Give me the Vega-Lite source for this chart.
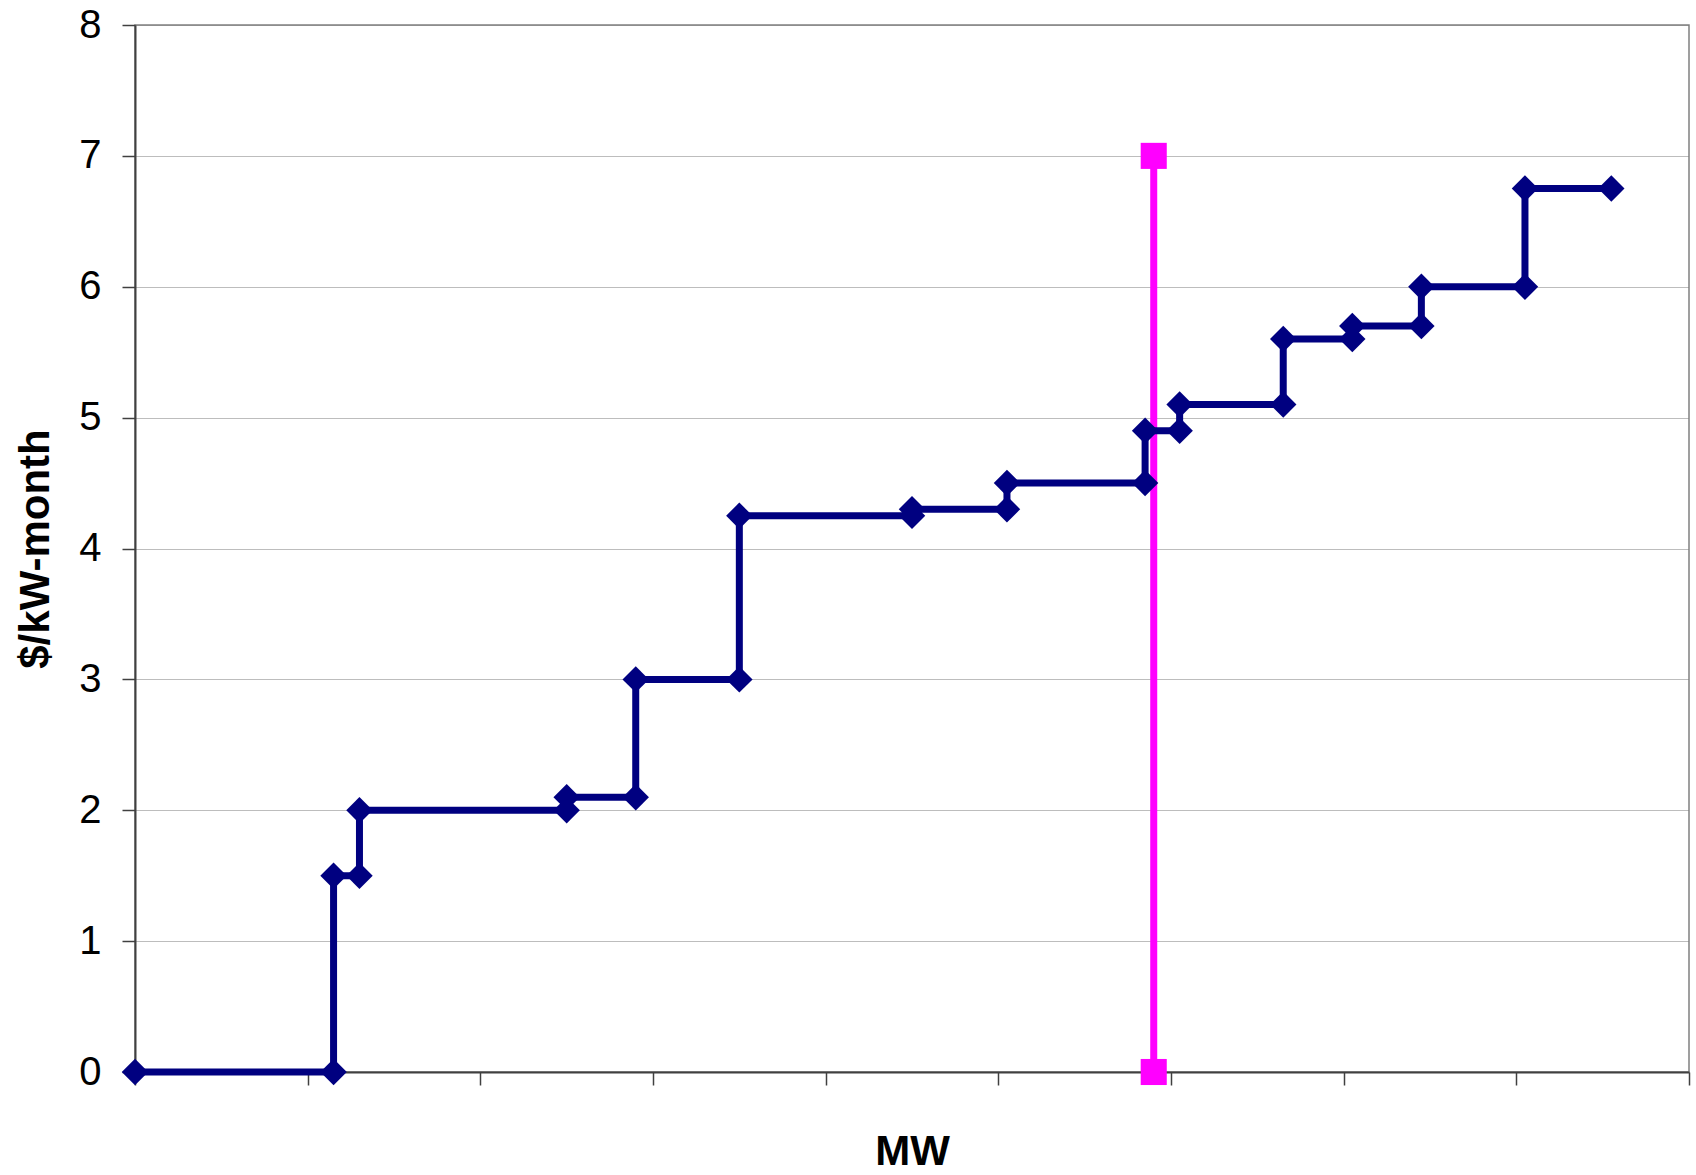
{
  "$schema": "https://vega.github.io/schema/vega-lite/v6.json",
  "width": 1554,
  "height": 1047,
  "autosize": {"type": "none"},
  "padding": {"left": 135, "top": 25, "right": 7, "bottom": 103},
  "background": "white",
  "config": {
    "view": {"stroke": "#808080", "strokeWidth": 1.5},
    "font": "Liberation Sans"
  },
  "datasets": {
    "supply": [
      {"mw": 0, "price": 0, "step": 1},
      {"mw": 115, "price": 0, "step": 2},
      {"mw": 115, "price": 1.5, "step": 3},
      {"mw": 130, "price": 1.5, "step": 4},
      {"mw": 130, "price": 2.0, "step": 5},
      {"mw": 250, "price": 2.0, "step": 6},
      {"mw": 250, "price": 2.1, "step": 7},
      {"mw": 290, "price": 2.1, "step": 8},
      {"mw": 290, "price": 3.0, "step": 9},
      {"mw": 350, "price": 3.0, "step": 10},
      {"mw": 350, "price": 4.25, "step": 11},
      {"mw": 450, "price": 4.25, "step": 12},
      {"mw": 450, "price": 4.3, "step": 13},
      {"mw": 505, "price": 4.3, "step": 14},
      {"mw": 505, "price": 4.5, "step": 15},
      {"mw": 585, "price": 4.5, "step": 16},
      {"mw": 585, "price": 4.9, "step": 17},
      {"mw": 605, "price": 4.9, "step": 18},
      {"mw": 605, "price": 5.1, "step": 19},
      {"mw": 665, "price": 5.1, "step": 20},
      {"mw": 665, "price": 5.6, "step": 21},
      {"mw": 705, "price": 5.6, "step": 22},
      {"mw": 705, "price": 5.7, "step": 23},
      {"mw": 745, "price": 5.7, "step": 24},
      {"mw": 745, "price": 6.0, "step": 25},
      {"mw": 805, "price": 6.0, "step": 26},
      {"mw": 805, "price": 6.75, "step": 27},
      {"mw": 855, "price": 6.75, "step": 28}
    ],
    "demand": [
      {"mw": 590, "price": 0, "step": 1},
      {"mw": 590, "price": 7, "step": 2}
    ]
  },
  "encoding": {
    "x": {
      "field": "mw",
      "type": "quantitative",
      "scale": {"domain": [0, 900], "nice": false, "zero": false},
      "axis": {
        "values": [0, 100, 200, 300, 400, 500, 600, 700, 800, 900],
        "labels": false,
        "grid": false,
        "ticks": true,
        "tickSize": 13,
        "tickColor": "#404040",
        "tickWidth": 1.5,
        "domainColor": "#404040",
        "domainWidth": 2,
        "title": "MW",
        "titleFont": "Liberation Sans",
        "titleFontSize": 42,
        "titleFontWeight": "bold",
        "titleColor": "#000000",
        "titlePadding": 46
      }
    },
    "y": {
      "field": "price",
      "type": "quantitative",
      "scale": {"domain": [0, 8], "nice": false},
      "axis": {
        "values": [0, 1, 2, 3, 4, 5, 6, 7, 8],
        "grid": true,
        "gridColor": "#7a7a7a",
        "gridDash": [1, 1],
        "gridWidth": 1,
        "tickSize": 13,
        "tickColor": "#404040",
        "tickWidth": 1.5,
        "domainColor": "#404040",
        "domainWidth": 2,
        "labelFont": "Liberation Sans",
        "labelFontSize": 40,
        "labelColor": "#000000",
        "labelPadding": 21,
        "title": "$/kW-month",
        "titleFont": "Liberation Sans",
        "titleFontSize": 42,
        "titleFontWeight": "bold",
        "titleColor": "#000000",
        "titlePadding": 21
      }
    }
  },
  "layer": [
    {
      "data": {"name": "demand"},
      "mark": {"type": "line", "color": "#FF00FF", "strokeWidth": 7, "strokeCap": "butt"},
      "encoding": {"order": {"field": "step", "type": "quantitative"}}
    },
    {
      "data": {"name": "supply"},
      "mark": {"type": "line", "color": "#000080", "strokeWidth": 7, "strokeJoin": "miter", "strokeCap": "butt"},
      "encoding": {"order": {"field": "step", "type": "quantitative"}}
    },
    {
      "data": {"name": "supply"},
      "mark": {"type": "point", "shape": "diamond", "filled": true, "color": "#000080", "size": 700, "opacity": 1}
    },
    {
      "data": {"name": "demand"},
      "mark": {"type": "point", "shape": "square", "filled": true, "color": "#FF00FF", "size": 680, "opacity": 1}
    }
  ]
}
